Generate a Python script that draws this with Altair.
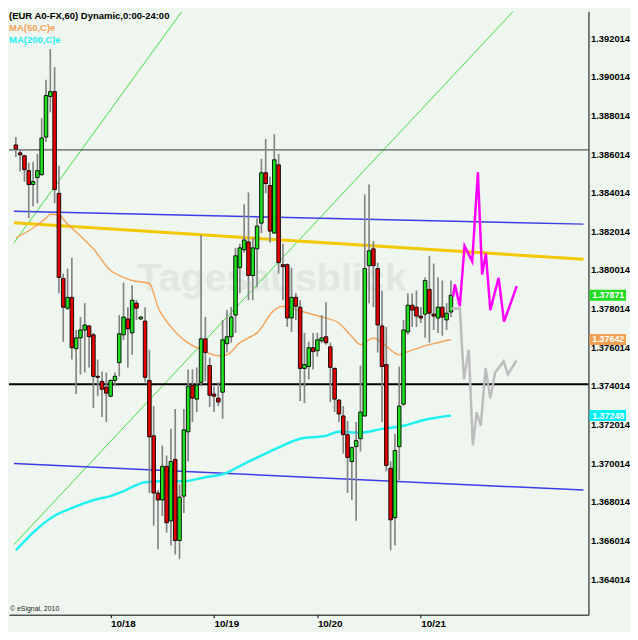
import altair as alt
import pandas as pd

# ---------------- data ----------------
opens = [1.38649, 1.38608, 1.38593, 1.38516, 1.38444, 1.38480, 1.38495, 1.38690, 1.38900, 1.38925,
         1.38398, 1.37958, 1.37804, 1.37860, 1.37594, 1.37650, 1.37691, 1.37712, 1.37666, 1.37451,
         1.37425, 1.37395, 1.37348, 1.37430, 1.37522, 1.37666, 1.37748, 1.37676, 1.37830, 1.37748,
         1.37737, 1.37430, 1.37143, 1.36847, 1.36811, 1.36985, 1.36703, 1.37021, 1.36601, 1.36831,
         1.37164, 1.37405, 1.37333, 1.37420, 1.37645, 1.37507, 1.37359, 1.37338, 1.37369, 1.37620,
         1.37656, 1.37768, 1.38014, 1.38106, 1.38147, 1.37973, 1.38111, 1.38244, 1.38505, 1.38439,
         1.38193, 1.38546, 1.38029, 1.38029, 1.37753, 1.37860, 1.37809, 1.37492, 1.37502, 1.37599,
         1.37584, 1.37635, 1.37656, 1.37604, 1.37492, 1.37328, 1.37246, 1.37149, 1.37010, 1.37087,
         1.37128, 1.37246, 1.38024, 1.38111, 1.38009, 1.37712, 1.37512, 1.36975, 1.36719, 1.37087,
         1.37307, 1.37681, 1.37819, 1.37809, 1.37763, 1.37773, 1.37901, 1.37773, 1.37753, 1.37809,
         1.37743, 1.37784]
highs = [1.38690, 1.38628, 1.38598, 1.38557, 1.38562, 1.38603, 1.38787, 1.38987, 1.39145, 1.39053,
         1.38541, 1.37983, 1.38009, 1.38065, 1.37691, 1.37758, 1.37830, 1.37717, 1.37676, 1.37538,
         1.37476, 1.37471, 1.37435, 1.37471, 1.37768, 1.37937, 1.37809, 1.37922, 1.37845, 1.37763,
         1.37809, 1.37589, 1.37297, 1.36862, 1.37092, 1.37041, 1.37179, 1.37282, 1.36893, 1.37282,
         1.37487, 1.37487, 1.37497, 1.38183, 1.37758, 1.37548, 1.37400, 1.37420, 1.37743, 1.37794,
         1.37809, 1.38116, 1.38137, 1.38342, 1.38403, 1.38168, 1.38270, 1.38577, 1.38680, 1.38485,
         1.38705, 1.38603, 1.38137, 1.38035, 1.38014, 1.37881, 1.37845, 1.37676, 1.37630, 1.37676,
         1.37676, 1.37768, 1.37835, 1.37625, 1.37497, 1.37333, 1.37297, 1.37220, 1.37087, 1.37215,
         1.37507, 1.38393, 1.38444, 1.38152, 1.38040, 1.37896, 1.37707, 1.37010, 1.37154, 1.37502,
         1.37743, 1.37881, 1.37881, 1.37896, 1.37809, 1.37963, 1.38075, 1.38035, 1.37963, 1.37947,
         1.37830, 1.37947]
lows = [1.38587, 1.38511, 1.38459, 1.38270, 1.38331, 1.38347, 1.38490, 1.38664, 1.38818, 1.38347,
        1.37881, 1.37630, 1.37794, 1.37538, 1.37359, 1.37461, 1.37471, 1.37497, 1.37287, 1.37348,
        1.37241, 1.37215, 1.37343, 1.37400, 1.37451, 1.37640, 1.37497, 1.37563, 1.37743, 1.37743,
        1.37420, 1.36847, 1.36678, 1.36555, 1.36729, 1.36642, 1.36575, 1.36529, 1.36504, 1.36744,
        1.37010, 1.37215, 1.37266, 1.37400, 1.37425, 1.37292, 1.37266, 1.37297, 1.37231, 1.37574,
        1.37625, 1.37676, 1.37881, 1.38091, 1.37845, 1.37845, 1.37912, 1.38193, 1.38398, 1.38142,
        1.38188, 1.37983, 1.37845, 1.37707, 1.37681, 1.37743, 1.37323, 1.37313, 1.37435, 1.37487,
        1.37553, 1.37625, 1.37615, 1.37318, 1.37266, 1.37215, 1.37051, 1.36847, 1.36811, 1.36703,
        1.37062, 1.37241, 1.37830, 1.37809, 1.37574, 1.37215, 1.36959, 1.36550, 1.36575, 1.36913,
        1.37297, 1.37666, 1.37707, 1.37707, 1.37727, 1.37651, 1.37625, 1.37691, 1.37676, 1.37661,
        1.37691, 1.37758]
closes = [1.38628, 1.38598, 1.38521, 1.38444, 1.38459, 1.38516, 1.38685, 1.38905, 1.38925, 1.38418,
          1.37963, 1.37809, 1.37860, 1.37599, 1.37650, 1.37691, 1.37717, 1.37656, 1.37451, 1.37446,
          1.37384, 1.37364, 1.37430, 1.37451, 1.37671, 1.37758, 1.37697, 1.37845, 1.37804, 1.37758,
          1.37446, 1.37138, 1.36847, 1.36811, 1.36985, 1.36693, 1.37010, 1.36601, 1.36826, 1.37174,
          1.37400, 1.37338, 1.37405, 1.37645, 1.37574, 1.37353, 1.37348, 1.37318, 1.37640, 1.37656,
          1.37758, 1.38075, 1.38116, 1.38157, 1.37973, 1.38116, 1.38229, 1.38505, 1.38449, 1.38203,
          1.38572, 1.38040, 1.38019, 1.37753, 1.37860, 1.37814, 1.37492, 1.37512, 1.37599, 1.37579,
          1.37640, 1.37650, 1.37625, 1.37497, 1.37333, 1.37256, 1.37149, 1.37031, 1.37082, 1.37118,
          1.37266, 1.38009, 1.38101, 1.38024, 1.37717, 1.37502, 1.36990, 1.36708, 1.37067, 1.37297,
          1.37691, 1.37819, 1.37794, 1.37763, 1.37753, 1.37947, 1.37778, 1.37763, 1.37809, 1.37758,
          1.37778, 1.37871]
bar_index = list(range(len(opens)))

ma50_i = [0, 4, 7, 8, 10, 12, 15, 18, 22, 25, 27, 31, 33, 36, 39, 43, 47, 49, 52, 54, 56, 60,
          62, 66, 71, 75, 78, 80, 83, 85, 89, 91, 96, 101]
ma50_p = [1.38168, 1.38219, 1.38270, 1.38290, 1.38285, 1.38239, 1.38178, 1.38111, 1.37999,
          1.37963, 1.37947, 1.37932, 1.37809, 1.37707, 1.37640, 1.37589, 1.37558, 1.37563,
          1.37625, 1.37650, 1.37676, 1.37794, 1.37814, 1.37789, 1.37758, 1.37727, 1.37656,
          1.37615, 1.37650, 1.37625, 1.37563, 1.37579, 1.37615, 1.37642]

ma200_i = [0, 4, 9, 12, 19, 22, 25, 30, 34, 39, 44, 48, 54, 57, 62, 66, 72, 75, 80, 85, 90, 95, 101]
ma200_p = [1.36550, 1.36642, 1.36729, 1.36760, 1.36816, 1.36831, 1.36857, 1.36903, 1.36908,
           1.36908, 1.36929, 1.36944, 1.37010, 1.37041, 1.37092, 1.37128, 1.37143, 1.37164,
           1.37159, 1.37179, 1.37195, 1.37226, 1.37248]

pink_i = [101.5, 101.9, 103.06, 104.16, 105.94, 107.26, 108.24, 109.12, 110.14, 112.07, 113.33, 116.28]
pink_p = [1.37862, 1.37927, 1.37814, 1.38127, 1.38046, 1.38507, 1.37978, 1.38087, 1.37794,
          1.37961, 1.37734, 1.37918]
grey_i = [101.06, 103.06, 104.03, 105.14, 106.09, 106.98, 107.93, 109.04, 110.14, 111.25, 113.24,
          114.22, 116.21]
grey_p = [1.37802, 1.37802, 1.37435, 1.37589, 1.37094, 1.37265, 1.37196, 1.37495, 1.37337,
          1.37470, 1.37529, 1.37461, 1.37533]

green_i1 = [-0.443, -0.443, -0.443]
green_p1 = [1.36580, 1.38142, 1.39294]
green_i2 = [117.16, 39.87, 2.44]
green_p2 = [1.39381, 1.39381, 1.39381]
blue_i1 = [-0.443, -0.443]
blue_p1 = [1.38306, 1.37000]
blue_i2 = [131.78, 131.78]
blue_p2 = [1.38239, 1.36862]
gold_i1 = [-0.443]
gold_p1 = [1.38246]
gold_i2 = [131.78]
gold_p2 = [1.38057]

grey_level = [1.38623]
black_level = [1.37410]

box_names = ["last", "ma50", "ma200"]
box_prices = [1.37871, 1.37642, 1.37248]
box_labels = ["1.37871", "1.37642", "1.37248"]

y_ticks = [1.392014, 1.390014, 1.388014, 1.386014, 1.384014, 1.382014, 1.380014, 1.378014,
           1.376014, 1.374014, 1.372014, 1.370014, 1.368014, 1.366014, 1.364014]
x_ticks = [22, 46, 70, 94]
x_labels = ["10/18", "10/19", "10/20", "10/21"]

title_texts = ["(EUR A0-FX,60) Dynamic,0:00-24:00", "MA(50,C)e", "MA(200,C)e"]

x_domain = [-0.443, 131.78]
y_domain = [1.36217, 1.39340]

# ---------------- chart ----------------
W, H = 586, 610
BG = "#eff6ef"
FONT = "Liberation Sans"

label_expr = " : ".join(
    f"datum.value == {v} ? '{t}'" for v, t in zip(x_ticks, x_labels)
) + " : ''"

XS = alt.Scale(domain=x_domain, nice=False, zero=False)
YS = alt.Scale(domain=y_domain, nice=False, zero=False)
xaxis = alt.Axis(values=x_ticks, labelExpr=label_expr, orient="bottom", labelAlign="left",
                 labelFontWeight="bold", labelFontSize=10, labelColor="black", labelFont=FONT,
                 tickColor="black", domainColor="black", tickSize=3, labelPadding=1,
                 grid=False, labelFlush=False, labelOverlap=False, title=None)
yaxis = alt.Axis(values=y_ticks, format=".6f", orient="right", labelFontWeight="bold",
                 labelFontSize=9.5, labelColor="black", labelFont=FONT, ticks=False, tickSize=0,
                 domainColor="black", labelPadding=2, grid=False, labelFlush=False,
                 labelOverlap=False, title=None)


def X(f):
    return alt.X(f, type="quantitative", scale=XS, axis=xaxis)


def Y(f):
    return alt.Y(f, type="quantitative", scale=YS, axis=yaxis)


candles = pd.DataFrame({"i": bar_index, "open": opens, "high": highs, "low": lows, "close": closes})
ma50 = pd.DataFrame({"i": ma50_i, "p": ma50_p})
ma200 = pd.DataFrame({"i": ma200_i, "p": ma200_p})
pink = pd.DataFrame({"i": pink_i, "p": pink_p})
grey = pd.DataFrame({"i": grey_i, "p": grey_p})
greens = pd.DataFrame({"i1": green_i1, "p1": green_p1, "i2": green_i2, "p2": green_p2})
blues = pd.DataFrame({"i1": blue_i1, "p1": blue_p1, "i2": blue_i2, "p2": blue_p2})
golds = pd.DataFrame({"i1": gold_i1, "p1": gold_p1, "i2": gold_i2, "p2": gold_p2})
boxes = pd.DataFrame({"name": box_names, "p": box_prices, "label": box_labels})

watermark = alt.Chart(pd.DataFrame({"t": ["Tagesausblick"]})).mark_text(
    font=FONT, fontSize=40, fontWeight="bold", color="#e0e8e0", align="center",
    baseline="alphabetic").encode(x=alt.value(266), y=alt.value(283), text="t:N")


def trend(df, color, width):
    return alt.Chart(df).mark_rule(color=color, strokeWidth=width, clip=True).encode(
        x=X("i1"), y=Y("p1"), x2=alt.X2("i2"), y2=alt.Y2("p2"))


green_l = trend(greens, "#3ee23e", 1)
blue_l = trend(blues, "#3c3ce6", 1.5)
gold_l = trend(golds, "#f2c800", 3)

grey_h = alt.Chart(pd.DataFrame({"p": grey_level})).mark_rule(
    color="#5a5a5a", strokeWidth=1.3).encode(y=Y("p"))
black_h = alt.Chart(pd.DataFrame({"p": black_level})).mark_rule(
    color="#000000", strokeWidth=2).encode(y=Y("p"))

ma50_l = alt.Chart(ma50).mark_line(color="#f4a45c", strokeWidth=1.5, interpolate="monotone").encode(
    x=X("i"), y=Y("p"))
ma200_l = alt.Chart(ma200).mark_line(color="#1ff0f0", strokeWidth=2.5, interpolate="monotone").encode(
    x=X("i"), y=Y("p"))

wicks = alt.Chart(candles).mark_rule(color="#858585", strokeWidth=1.7).encode(
    x=X("i"), y=Y("high"), y2=alt.Y2("low"))
bodies = alt.Chart(candles).mark_bar(size=3.6, stroke="#000000", strokeWidth=0.9).encode(
    x=X("i"), y=Y("open"), y2=alt.Y2("close"),
    fill=alt.condition("datum.close >= datum.open", alt.value("#1fe01f"), alt.value("#e40000")))

pink_l = alt.Chart(pink).mark_line(color="#ff00ff", strokeWidth=2.5).encode(x=X("i"), y=Y("p"))
grey_l = alt.Chart(grey).mark_line(color="#bdbdbd", strokeWidth=2.5).encode(x=X("i"), y=Y("p"))

box_rect = alt.Chart(boxes).mark_rect(yOffset=-5.5, y2Offset=5.5).encode(
    x=alt.value(W + 1), x2=alt.value(W + 38), y=Y("p"), y2=alt.Y2("p"),
    fill=alt.Color("name:N", scale=alt.Scale(domain=box_names,
                                             range=["#22dd22", "#f0a050", "#00f2f2"]),
                   legend=None))
box_text = alt.Chart(boxes).mark_text(font=FONT, fontSize=9, fontWeight="bold", color="white",
                                      align="center", baseline="middle").encode(
    x=alt.value(W + 20), y=Y("p"), text="label:N")


def title_line(text, color, ypix):
    return alt.Chart(pd.DataFrame({"t": [text]})).mark_text(
        font=FONT, fontSize=9.6, fontWeight="bold", align="left", baseline="top",
        color=color).encode(x=alt.value(0), y=alt.value(ypix), text="t:N")


t1 = title_line(title_texts[0], "#000000", 0)
t2 = title_line(title_texts[1], "#f4a45c", 11.5)
t3 = title_line(title_texts[2], "#1ff0f0", 24)

copy_txt = alt.Chart(pd.DataFrame({"t": ["© eSignal, 2010"]})).mark_text(
    font=FONT, fontSize=7, color="#222222", align="left", baseline="middle").encode(
    x=alt.value(1), y=alt.value(H - 6), text="t:N")

chart = alt.layer(
    watermark, green_l, blue_l, gold_l, grey_h, black_h, ma50_l, ma200_l,
    wicks, bodies, pink_l, grey_l, box_rect, box_text, t1, t2, t3, copy_txt
).properties(
    width=W, height=H, padding=0, background=BG
).configure_view(strokeWidth=0)

chart.save("out.html", embed_options={"renderer": "svg", "actions": False})
